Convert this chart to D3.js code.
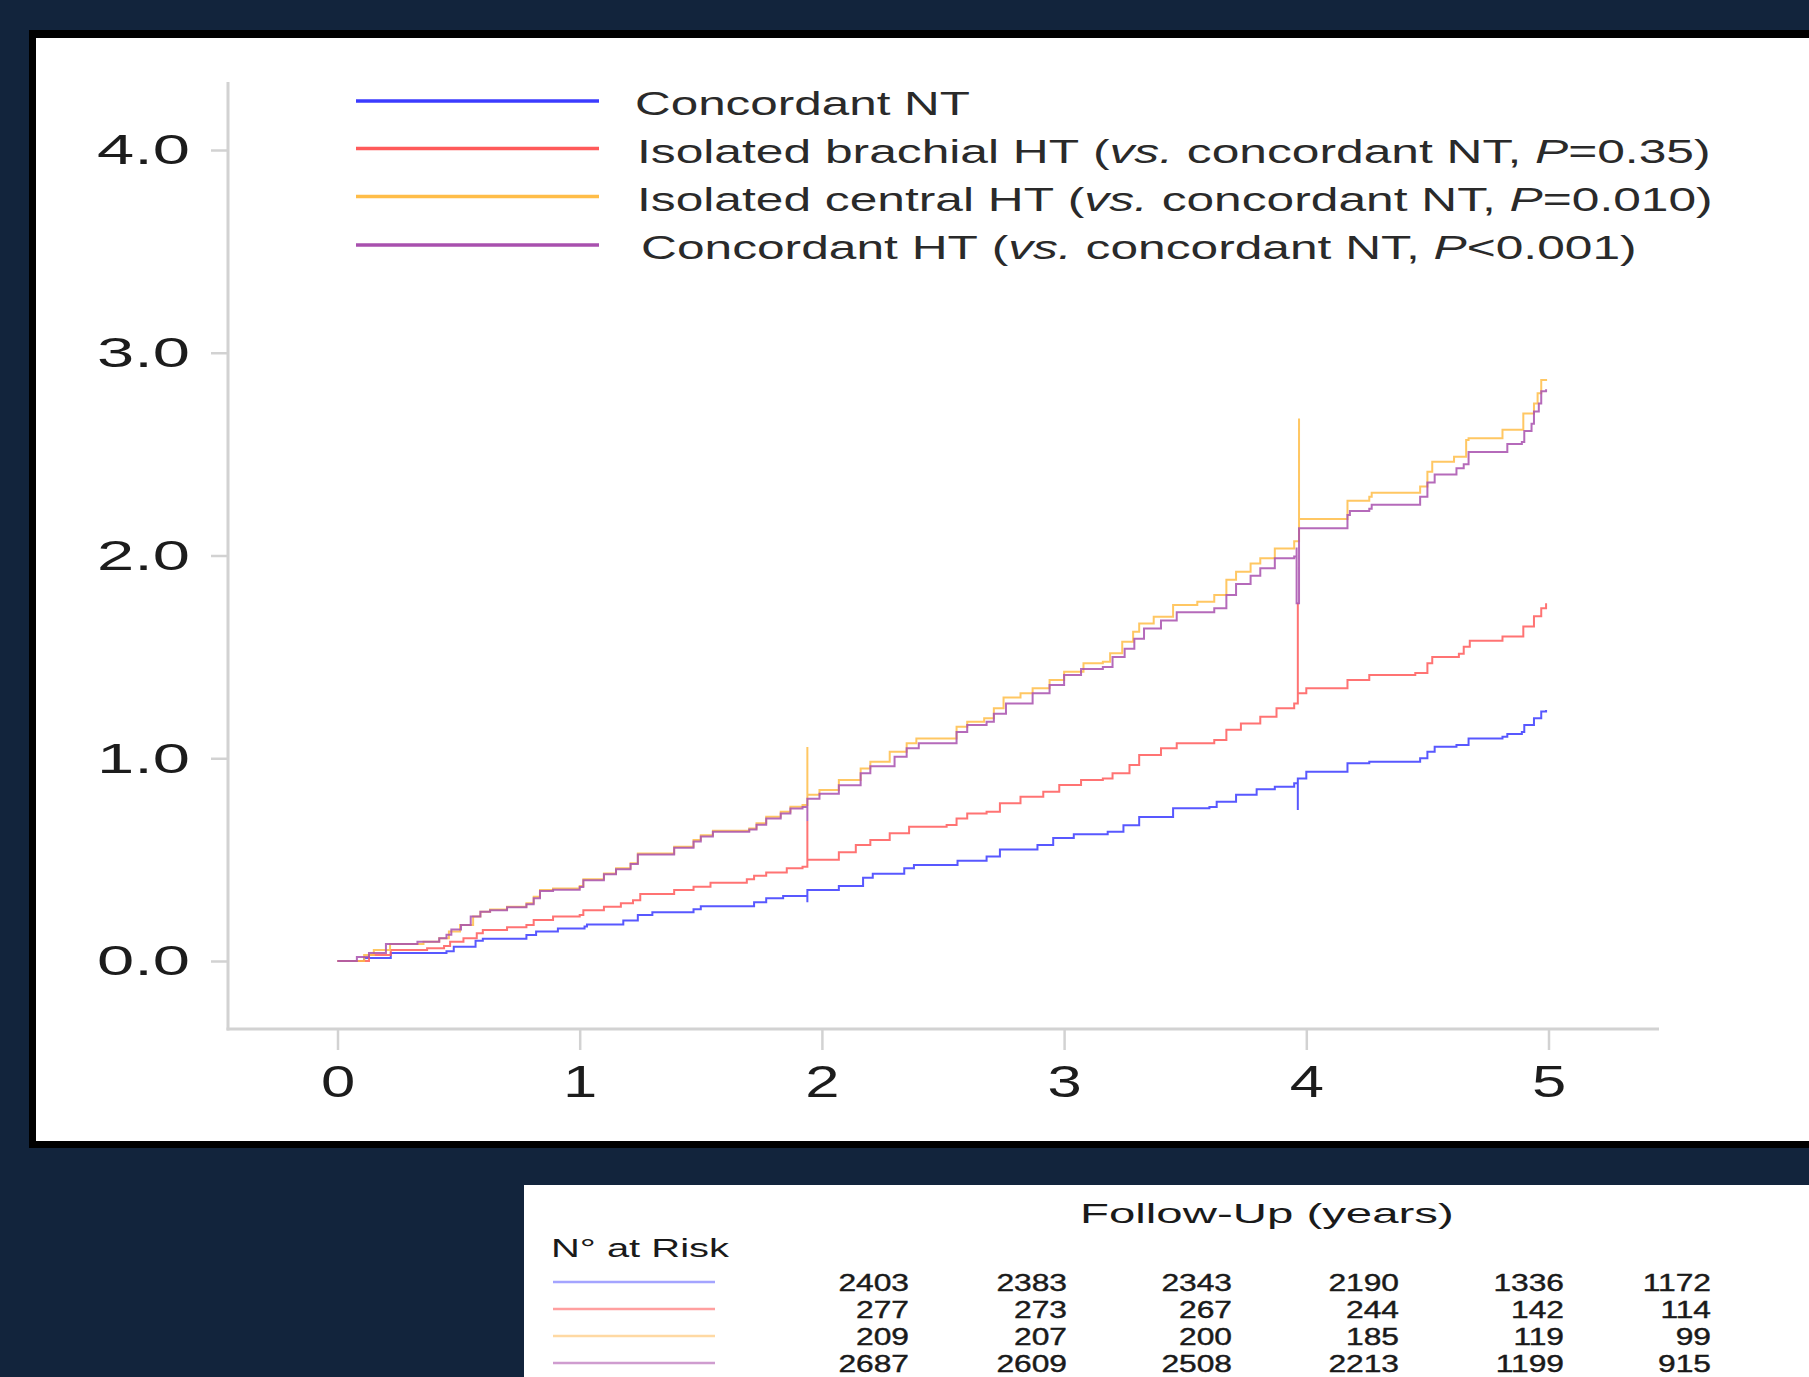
<!DOCTYPE html>
<html lang="en">
<head>
<meta charset="utf-8">
<title>Cumulative incidence by blood pressure phenotype</title>
<script src="https://cdn.jsdelivr.net/npm/d3@7"></script>
<style>
  body { margin: 0; background: #12243c; }
  svg { display: block; font-family: "Liberation Sans", Arial, sans-serif; }
</style>
</head>
<body>
<script>
// values: [years, cumulative incidence]
var concordantNT = [[0,0],[0.11,0.015],[0.22,0.04],[0.45,0.048],[0.48,0.07],[0.57,0.10],[0.6,0.11],[0.78,0.128],[0.82,0.145],[0.91,0.16],[1.02,0.17],[1.03,0.18],[1.18,0.20],[1.24,0.227],[1.3,0.24],[1.47,0.255],[1.5,0.27],[1.72,0.29],[1.77,0.31],[1.84,0.32],[1.94,0.325],[1.94,0.29],[1.94,0.35],[2.07,0.37],[2.17,0.41],[2.21,0.43],[2.34,0.457],[2.38,0.473],[2.56,0.495],[2.68,0.515],[2.735,0.55],[2.89,0.572],[2.955,0.607],[3.04,0.625],[3.18,0.638],[3.245,0.67],[3.31,0.71],[3.45,0.753],[3.6,0.76],[3.63,0.785],[3.71,0.82],[3.795,0.847],[3.87,0.86],[3.95,0.877],[3.965,0.745],[3.965,0.90],[4.0,0.934],[4.17,0.975],[4.26,0.983],[4.47,1.0],[4.5,1.032],[4.53,1.057],[4.62,1.065],[4.67,1.098],[4.81,1.106],[4.83,1.12],[4.89,1.13],[4.9,1.164],[4.94,1.197],[4.97,1.23],[4.99,1.238]];

var brachialHT = [[0,0],[0.13,0.03],[0.22,0.054],[0.37,0.063],[0.44,0.074],[0.465,0.095],[0.52,0.112],[0.575,0.137],[0.6,0.153],[0.7,0.166],[0.78,0.178],[0.81,0.202],[0.89,0.219],[1.0,0.227],[1.015,0.25],[1.1,0.268],[1.17,0.285],[1.22,0.30],[1.25,0.33],[1.39,0.35],[1.47,0.366],[1.54,0.386],[1.69,0.403],[1.72,0.42],[1.77,0.436],[1.855,0.457],[1.92,0.465],[1.94,0.69],[1.94,0.50],[2.07,0.536],[2.14,0.572],[2.2,0.597],[2.28,0.63],[2.36,0.662],[2.515,0.671],[2.556,0.703],[2.6,0.728],[2.68,0.736],[2.735,0.778],[2.82,0.81],[2.914,0.835],[2.98,0.868],[3.07,0.893],[3.16,0.90],[3.2,0.926],[3.27,0.967],[3.31,1.016],[3.4,1.049],[3.465,1.074],[3.62,1.09],[3.67,1.14],[3.73,1.172],[3.81,1.205],[3.877,1.246],[3.95,1.27],[3.965,1.764],[3.965,1.32],[4.0,1.345],[4.17,1.386],[4.26,1.41],[4.45,1.42],[4.5,1.468],[4.52,1.50],[4.63,1.516],[4.65,1.55],[4.675,1.58],[4.81,1.60],[4.896,1.65],[4.94,1.70],[4.97,1.74],[4.99,1.764]];

var centralHT = [[0,0],[0.11,0.03],[0.15,0.054],[0.217,0.084],[0.355,0.095],[0.42,0.112],[0.46,0.145],[0.506,0.178],[0.56,0.219],[0.59,0.243],[0.63,0.254],[0.70,0.268],[0.78,0.285],[0.81,0.317],[0.836,0.35],[0.89,0.357],[1.0,0.37],[1.015,0.403],[1.1,0.432],[1.15,0.457],[1.21,0.482],[1.24,0.53],[1.39,0.564],[1.47,0.597],[1.5,0.62],[1.55,0.643],[1.70,0.654],[1.73,0.68],[1.77,0.711],[1.83,0.736],[1.87,0.761],[1.92,0.77],[1.94,1.055],[1.94,0.82],[1.99,0.843],[2.07,0.893],[2.16,0.95],[2.2,0.983],[2.28,1.032],[2.35,1.074],[2.39,1.098],[2.556,1.155],[2.6,1.18],[2.67,1.197],[2.71,1.246],[2.75,1.30],[2.82,1.32],[2.87,1.345],[2.94,1.386],[3.0,1.427],[3.08,1.468],[3.16,1.476],[3.19,1.518],[3.24,1.575],[3.285,1.624],[3.31,1.665],[3.37,1.698],[3.45,1.756],[3.55,1.772],[3.62,1.805],[3.67,1.88],[3.71,1.92],[3.77,1.96],[3.81,1.986],[3.87,2.035],[3.95,2.07],[3.97,2.676],[3.97,2.18],[4.17,2.27],[4.26,2.29],[4.27,2.31],[4.47,2.34],[4.5,2.413],[4.52,2.463],[4.61,2.487],[4.66,2.57],[4.67,2.578],[4.81,2.62],[4.896,2.70],[4.94,2.75],[4.955,2.8],[4.97,2.866],[4.99,2.87]];

var concordantHT = [[0,0],[0.08,0.02],[0.13,0.04],[0.2,0.084],[0.33,0.095],[0.42,0.112],[0.45,0.13],[0.47,0.155],[0.51,0.178],[0.55,0.219],[0.59,0.243],[0.63,0.25],[0.70,0.265],[0.78,0.28],[0.81,0.31],[0.836,0.345],[0.89,0.352],[1.0,0.365],[1.015,0.398],[1.1,0.428],[1.15,0.452],[1.21,0.478],[1.24,0.525],[1.39,0.558],[1.47,0.59],[1.5,0.614],[1.55,0.638],[1.70,0.648],[1.73,0.672],[1.77,0.703],[1.83,0.728],[1.87,0.752],[1.92,0.76],[1.94,0.69],[1.94,0.80],[1.99,0.825],[2.07,0.867],[2.16,0.926],[2.2,0.96],[2.3,1.008],[2.35,1.049],[2.4,1.074],[2.556,1.13],[2.6,1.164],[2.68,1.18],[2.71,1.22],[2.76,1.27],[2.87,1.32],[2.94,1.361],[3.0,1.41],[3.07,1.44],[3.16,1.45],[3.2,1.50],[3.25,1.54],[3.29,1.59],[3.33,1.64],[3.4,1.68],[3.465,1.72],[3.62,1.74],[3.67,1.805],[3.71,1.86],[3.77,1.90],[3.81,1.937],[3.87,1.986],[3.95,1.995],[3.96,2.04],[3.96,1.764],[3.97,2.134],[4.17,2.2],[4.18,2.22],[4.26,2.23],[4.27,2.25],[4.47,2.29],[4.5,2.36],[4.53,2.40],[4.62,2.43],[4.65,2.45],[4.67,2.51],[4.83,2.55],[4.89,2.56],[4.9,2.614],[4.93,2.65],[4.94,2.71],[4.96,2.75],[4.97,2.81],[4.99,2.82]];

var seriesNames = ["Concordant NT", "Isolated brachial HT", "Isolated central HT", "Concordant HT"];
var pValues = [null, "=0.35", "=0.010", "<0.001"];
var yTicks = [0, 1, 2, 3, 4];
var xTicks = [0, 1, 2, 3, 4, 5];
var riskNT = [2403, 2383, 2343, 2190, 1336, 1172];
var riskBrachial = [277, 273, 267, 244, 142, 114];
var riskCentral = [209, 207, 200, 185, 119, 99];
var riskHT = [2687, 2609, 2508, 2213, 1199, 915];

var allSeries = [concordantNT, brachialHT, centralHT, concordantHT];
var allRisk = [riskNT, riskBrachial, riskCentral, riskHT];
var lineColors = ["#3b3bff", "#ff5a5a", "#ffbd48", "#a850ae"];
var paleColors = ["#a4a4ff", "#ff9f9f", "#ffd9a3", "#cf9ccf"];

var W = 1809, H = 1377;
var svg = d3.select("body").append("svg")
    .attr("width", W)
    .attr("height", H);

// squeeze/stretch a text element horizontally so it spans w pixels
function fitWidth(sel, w) {
    sel.each(function() {
        var t = d3.select(this);
        var x0 = +t.attr("x") || 0;
        var n = this.getComputedTextLength();
        t.attr("x", 0).attr("transform", "translate(" + x0 + ",0) scale(" + (w / n) + ",1)");
    });
}

// framed chart panel
svg.append("rect").attr("x", 29).attr("y", 30).attr("width", W).attr("height", 1118).attr("fill", "#000");
svg.append("rect").attr("x", 36).attr("y", 38).attr("width", W).attr("height", 1103).attr("fill", "#fff");

var x = d3.scaleLinear().domain([0, 5]).range([337.5, 1548.5]);
var y = d3.scaleLinear().domain([0, 4]).range([961, 150]);

var axisX0 = 228, axisY0 = 1029, axisTop = 82, axisRight = 1659;
var axisGrey = "#d2d2d2";

// y axis
var gy = svg.append("g").attr("transform", "translate(" + axisX0 + ",0)")
    .call(d3.axisLeft(y).tickValues(yTicks).tickSize(17).tickPadding(21).tickFormat(d3.format(".1f")));
gy.select(".domain").remove();
gy.selectAll(".tick line").attr("stroke", axisGrey).attr("stroke-width", 2.5);
gy.selectAll(".tick text").attr("font-size", 43).attr("fill", "#1c1c1c")
    .attr("font-family", "Liberation Sans, Arial, sans-serif");
gy.selectAll(".tick text").each(function() {
    var t = d3.select(this);
    var n = this.getComputedTextLength();
    t.attr("transform", "translate(" + t.attr("x") + ",0) scale(" + (93 / n) + ",1)").attr("x", 0);
});

// x axis
var gx = svg.append("g").attr("transform", "translate(0," + axisY0 + ")")
    .call(d3.axisBottom(x).tickValues(xTicks).tickSize(21).tickFormat(d3.format("d")));
gx.select(".domain").remove();
gx.selectAll(".tick line").attr("stroke", axisGrey).attr("stroke-width", 2.5);
gx.selectAll(".tick text").attr("font-size", 44).attr("fill", "#1c1c1c")
    .attr("font-family", "Liberation Sans, Arial, sans-serif")
    .attr("y", 68).attr("dy", 0)
    .attr("transform", "scale(1.4,1)");

svg.append("line").attr("x1", axisX0).attr("x2", axisX0).attr("y1", axisTop).attr("y2", axisY0 + 1.5)
    .attr("stroke", axisGrey).attr("stroke-width", 3);
svg.append("line").attr("x1", axisX0 - 1.5).attr("x2", axisRight).attr("y1", axisY0).attr("y2", axisY0)
    .attr("stroke", axisGrey).attr("stroke-width", 3);

// step curves
var line = d3.line()
    .x(function(d) { return x(d[0]); })
    .y(function(d) { return y(d[1]); })
    .curve(d3.curveStepAfter);

svg.append("g").selectAll("path")
    .data(allSeries)
    .enter().append("path")
    .attr("d", line)
    .attr("fill", "none")
    .attr("stroke", function(d, i) { return lineColors[i]; })
    .attr("stroke-width", 2)
    .attr("stroke-opacity", 0.85);

// legend
var legendBase = [115, 162.5, 210.5, 259];
var legendStart = [635, 637, 637, 641];
var legendWidth = [335, 1073, 1075, 995];
var lg = svg.append("g");
seriesNames.forEach(function(name, i) {
    lg.append("line").attr("x1", 356).attr("x2", 599)
        .attr("y1", legendBase[i] - 14).attr("y2", legendBase[i] - 14)
        .attr("stroke", lineColors[i]).attr("stroke-width", 3.5);
    var g = lg.append("g").attr("transform", "translate(" + legendStart[i] + "," + legendBase[i] + ")");
    var t = g.append("text").attr("font-size", 33).attr("fill", "#2a2a2a");
    t.append("tspan").text(name);
    if (pValues[i]) {
        t.append("tspan").text(" (");
        t.append("tspan").attr("font-style", "italic").text("vs.");
        t.append("tspan").text(" concordant NT, ");
        t.append("tspan").attr("font-style", "italic").text("P");
        t.append("tspan").text(pValues[i] + ")");
    }
    fitWidth(t, legendWidth[i]);
});

// number-at-risk panel
svg.append("rect").attr("x", 524).attr("y", 1185).attr("width", W).attr("height", H).attr("fill", "#fff");

var tp = svg.append("g");
var ft = tp.append("g").attr("transform", "translate(1080,1223)")
    .append("text").attr("font-size", 28).attr("fill", "#1a1a1a").text("Follow-Up (years)");
fitWidth(ft, 374);
var nr = tp.append("g").attr("transform", "translate(551,1257)")
    .append("text").attr("font-size", 25).attr("fill", "#1a1a1a").text("N\u00b0 at Risk");
fitWidth(nr, 178);

var colRight = [909, 1067, 1232, 1399, 1564, 1711];
var rowBase = [1291, 1318, 1345, 1372];
allRisk.forEach(function(row, i) {
    tp.append("line").attr("x1", 553).attr("x2", 715)
        .attr("y1", rowBase[i] - 9).attr("y2", rowBase[i] - 9)
        .attr("stroke", paleColors[i]).attr("stroke-width", 2.5);
    row.forEach(function(v, j) {
        tp.append("g").attr("transform", "translate(" + colRight[j] + "," + rowBase[i] + ") scale(1.38,1)")
            .append("text").attr("font-size", 23).attr("fill", "#1a1a1a")
            .attr("stroke", "#1a1a1a").attr("stroke-width", 0.4)
            .attr("text-anchor", "end").text(v);
    });
});
</script>
</body>
</html>
